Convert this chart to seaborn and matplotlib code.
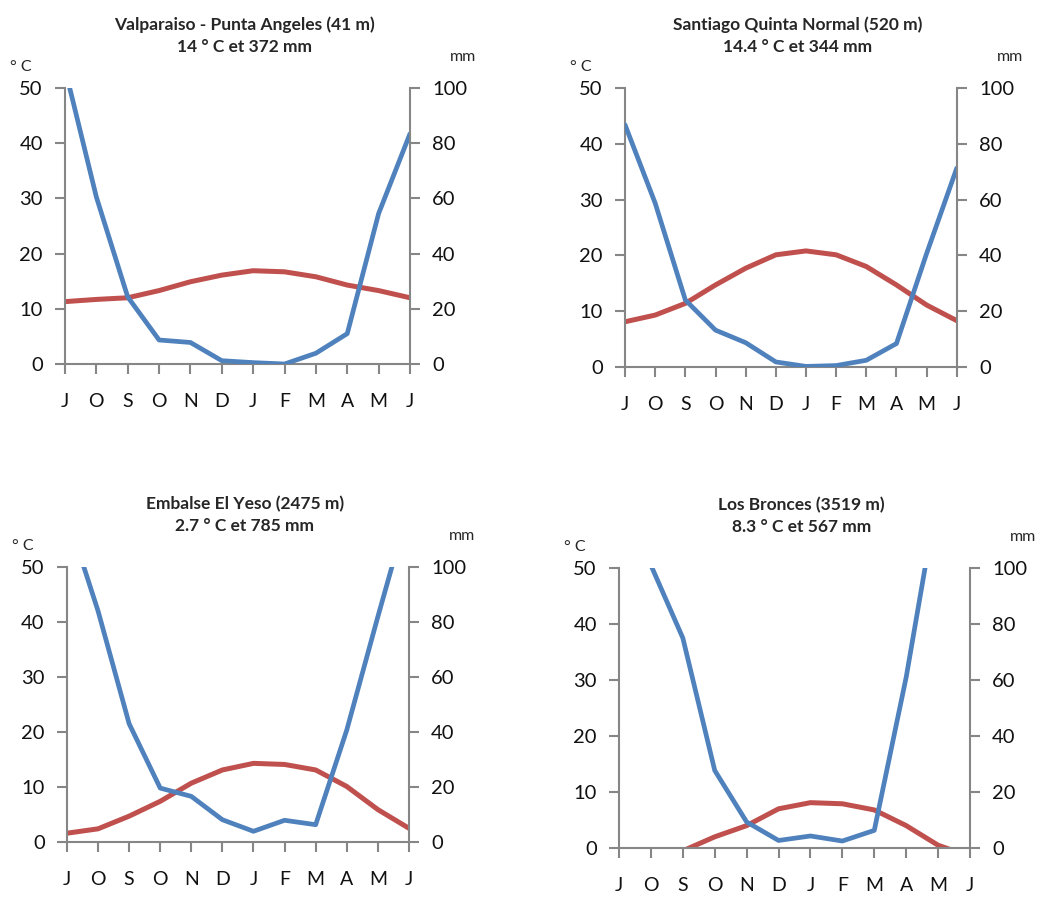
import numpy as np
import seaborn as sns
import matplotlib.pyplot as plt

months = ["J", "O", "S", "O", "N", "D", "J", "F", "M", "A", "M", "J"]

titles = [
    "Valparaiso - Punta Angeles (41 m)\n14 ° C et 372 mm",
    "Santiago Quinta Normal (520 m)\n14.4 ° C et 344 mm",
    "Embalse El Yeso (2475 m)\n2.7 ° C et 785 mm",
    "Los Bronces (3519 m)\n8.3 ° C et 567 mm",
]

valparaiso_temp = [11.3, 11.7, 12.0, 13.3, 14.9, 16.1, 16.9, 16.7, 15.8, 14.3, 13.3, 12.0]
valparaiso_prec = [107, 60.5, 24.3, 8.7, 7.8, 1.2, 0.5, 0.0, 3.9, 11.0, 54.5, 83.4]

santiago_temp = [8.1, 9.3, 11.4, 14.7, 17.7, 20.1, 20.8, 20.1, 18.0, 14.7, 11.1, 8.3]
santiago_prec = [86.8, 58.7, 24.0, 13.2, 8.7, 1.8, 0.2, 0.5, 2.4, 8.4, 40.7, 71.3]

elyeso_temp = [1.6, 2.4, 4.7, 7.4, 10.7, 13.1, 14.3, 14.1, 13.1, 10.1, 5.9, 2.5]
elyeso_prec = [119, 84, 43, 19.6, 16.6, 8.1, 3.9, 7.9, 6.3, 40.7, 81.9, 122]

bronces_temp = [-3.0, -2.0, -0.5, 2.0, 4.0, 7.0, 8.1, 7.9, 6.8, 4.0, 0.5, -1.5]
bronces_prec = [130, 101, 75, 27.7, 9.3, 2.7, 4.3, 2.5, 6.3, 61, 127, 140]

temps = [valparaiso_temp, santiago_temp, elyeso_temp, bronces_temp]
precs = [valparaiso_prec, santiago_prec, elyeso_prec, bronces_prec]

# axes boxes in figure fractions (left, bottom, width, height)
boxes = [
    (0.0625, 0.5942, 0.3317, 0.3077),
    (0.6010, 0.5909, 0.3190, 0.3110),
    (0.0644, 0.0613, 0.3288, 0.3066),
    (0.5952, 0.0546, 0.3375, 0.3122),
]

RED = "#C0504D"
BLUE = "#4F81BD"
GREY = "#868686"

sns.set_theme(style="white")
plt.rcParams["font.family"] = ["Lato", "DejaVu Sans"]

fig = plt.figure(figsize=(10.4, 8.97), dpi=100)
x = np.arange(len(months))

for box, title, t, p in zip(boxes, titles, temps, precs):
    ax = fig.add_axes(box)
    ax2 = ax.twinx()

    sns.lineplot(x=x, y=t, ax=ax, color=RED, lw=3.6)
    sns.lineplot(x=x, y=p, ax=ax2, color=BLUE, lw=3.4)

    ax.set_xlim(0, 11)
    ax.set_ylim(0, 50)
    ax2.set_ylim(0, 100)
    ax.set_yticks(range(0, 51, 10))
    ax2.set_yticks(range(0, 101, 20))
    ax.set_xticks(x)
    ax.set_xticklabels(months)
    ax.set_xlabel("")
    ax.set_ylabel("")
    ax2.set_ylabel("")

    for a in (ax, ax2):
        for s in a.spines.values():
            s.set_visible(False)
    ax.spines["left"].set_visible(True)
    ax.spines["bottom"].set_visible(True)
    ax2.spines["right"].set_visible(True)
    for s in (ax.spines["left"], ax.spines["bottom"], ax2.spines["right"]):
        s.set_color(GREY)
        s.set_linewidth(1.5)

    ax.tick_params(axis="y", left=True, length=7, width=1.5, color=GREY,
                   pad=9, labelsize=14.5, labelcolor="#111111")
    ax.tick_params(axis="x", bottom=True, length=7, width=1.5, color=GREY,
                   pad=14, labelsize=14, labelcolor="#111111")
    ax2.tick_params(axis="y", right=True, length=7, width=1.5, color=GREY,
                    pad=9, labelsize=14.5, labelcolor="#111111")

    ax.annotate(title, xy=(0.52, 1), xycoords="axes fraction",
                xytext=(0, 24), textcoords="offset points",
                ha="center", va="bottom", fontsize=12.5, fontweight="bold",
                linespacing=1.4)
    ax.annotate("° C", xy=(0, 1), xycoords="axes fraction",
                xytext=(-32, 15), textcoords="offset points",
                ha="center", va="center", fontsize=11.5)
    ax2.annotate("mm", xy=(1, 1), xycoords="axes fraction",
                 xytext=(38, 22), textcoords="offset points",
                 ha="center", va="center", fontsize=11.5)

fig.savefig("out.png", dpi=100)
